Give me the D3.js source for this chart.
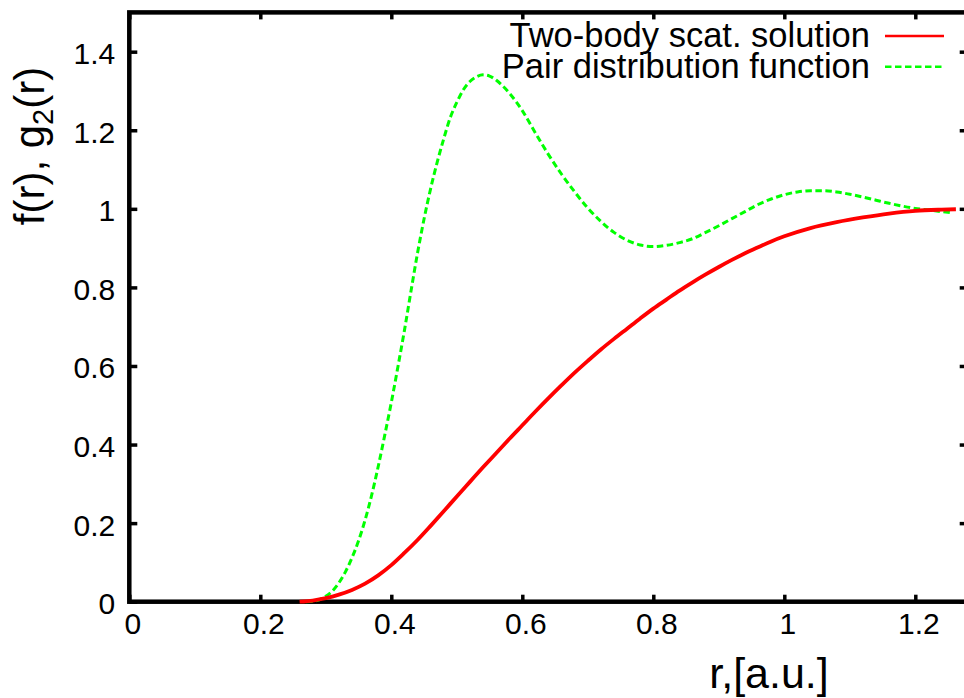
<!DOCTYPE html>
<html>
<head>
<meta charset="utf-8">
<script src="https://cdn.jsdelivr.net/npm/d3@7/dist/d3.min.js"></script>
<style>
  html, body { margin: 0; padding: 0; background: #fff; }
  svg { display: block; }
  text { font-family: "Liberation Sans", Arial, Helvetica, sans-serif; fill: #000; }
</style>
</head>
<body>
<svg id="chart" width="964" height="698"></svg>
<script>
// ---- data ----
const rRed = [0.26,0.28,0.30,0.32,0.34,0.36,0.38,0.40,0.42,0.44,0.46,0.48,0.50,0.52,0.54,0.56,0.58,0.60,0.62,0.64,0.66,0.68,0.70,0.72,0.74,0.76,0.78,0.80,0.82,0.84,0.86,0.88,0.90,0.92,0.94,0.96,0.98,1.00,1.04,1.08,1.12,1.16,1.20,1.24,1.262];
const fRed = [0,0.003,0.009,0.018,0.030,0.046,0.067,0.093,0.124,0.157,0.193,0.230,0.268,0.305,0.342,0.378,0.414,0.449,0.484,0.518,0.551,0.583,0.613,0.642,0.669,0.695,0.721,0.746,0.769,0.792,0.813,0.833,0.852,0.870,0.887,0.902,0.917,0.930,0.951,0.966,0.978,0.988,0.995,0.998,0.999];

const rGreen = [0.27,0.28,0.29,0.30,0.31,0.32,0.33,0.34,0.35,0.36,0.37,0.38,0.39,0.40,0.41,0.42,0.43,0.44,0.45,0.46,0.47,0.48,0.49,0.50,0.51,0.52,0.53,0.54,0.55,0.56,0.57,0.58,0.59,0.60,0.61,0.62,0.63,0.64,0.66,0.68,0.70,0.72,0.74,0.76,0.78,0.80,0.82,0.84,0.86,0.88,0.90,0.92,0.94,0.96,0.98,1.00,1.02,1.04,1.06,1.08,1.10,1.12,1.14,1.16,1.18,1.20,1.22,1.24,1.256];
const gGreen = [0,0.001,0.005,0.014,0.027,0.048,0.076,0.112,0.155,0.208,0.271,0.344,0.424,0.507,0.597,0.690,0.790,0.887,0.974,1.051,1.118,1.178,1.232,1.271,1.303,1.324,1.336,1.341,1.338,1.328,1.313,1.295,1.274,1.250,1.222,1.193,1.165,1.138,1.088,1.043,1.002,0.968,0.940,0.920,0.908,0.904,0.907,0.914,0.924,0.940,0.957,0.975,0.993,1.011,1.025,1.036,1.043,1.046,1.046,1.043,1.037,1.030,1.022,1.014,1.007,1.001,0.997,0.993,0.990];

const xTicks = [0,0.2,0.4,0.6,0.8,1,1.2];
const xTickLabels = ["0","0.2","0.4","0.6","0.8","1","1.2"];
const yTicks = [0,0.2,0.4,0.6,0.8,1,1.2,1.4];
const yTickLabels = ["0","0.2","0.4","0.6","0.8","1","1.2","1.4"];
const seriesNames = ["Two-body scat. solution","Pair distribution function"];

// ---- chart ----
const svg = d3.select("#chart");
const x = d3.scaleLinear().domain([0, 1.28]).range([129.3, 967.7]);
const y = d3.scaleLinear().domain([0, 1.5]).range([601.7, 12.4]);

const axW = 4.5;

// tick marks and labels
const gx = svg.append("g").attr("transform", `translate(0,${y(0)})`)
  .call(d3.axisBottom(x).tickValues(xTicks).tickFormat((d,i)=>xTickLabels[i]).tickSize(-7).tickSizeOuter(0).tickPadding(11));
const gy = svg.append("g").attr("transform", `translate(${x(0)},0)`)
  .call(d3.axisLeft(y).tickValues(yTicks).tickFormat((d,i)=>yTickLabels[i]).tickSize(-8).tickSizeOuter(0).tickPadding(14));
const gt = svg.append("g").attr("transform", `translate(0,${y(1.5)})`)
  .call(d3.axisTop(x).tickValues(xTicks).tickFormat("").tickSize(-7).tickSizeOuter(0));
const gr = svg.append("g").attr("transform", `translate(${x(1.28)},0)`)
  .call(d3.axisRight(y).tickValues(yTicks).tickFormat("").tickSize(-8).tickSizeOuter(0));

[gx, gy, gt, gr].forEach(g => {
  g.select(".domain").remove();
  g.selectAll(".tick line").attr("stroke", "#000").attr("stroke-width", 3.5);
  g.selectAll(".tick text").attr("font-size", 30).attr("font-family", '"Liberation Sans", Arial, sans-serif').attr("fill", "#000");
});
gx.selectAll(".tick text").attr("dx", 3);
gy.selectAll(".tick text").attr("dy", "0.4em");

// frame
svg.append("rect")
  .attr("x", x(0)).attr("y", y(1.5))
  .attr("width", x(1.28) - x(0)).attr("height", y(0) - y(1.5))
  .attr("fill", "none").attr("stroke", "#000").attr("stroke-width", axW);

// lines
const redData = rRed.map((r,i)=>[r, fRed[i]]);
const greenData = rGreen.map((r,i)=>[r, gGreen[i]]);
const line = d3.line().x(d=>x(d[0])).y(d=>y(d[1])).curve(d3.curveMonotoneX);

svg.append("path").datum(greenData).attr("d", line)
  .attr("fill","none").attr("stroke","#00ff00").attr("stroke-width",3)
  .attr("stroke-dasharray","6.5,3.5");
svg.append("path").datum(redData).attr("d", line)
  .attr("fill","none").attr("stroke","#ff0000").attr("stroke-width",3.8);

// legend
const leg = svg.append("g");
const legRows = [{name: seriesNames[0], color:"#ff0000", dash:null, y:36},
                 {name: seriesNames[1], color:"#00ff00", dash:"6.5,3.5", y:66.7}];
legRows.forEach(r => {
  leg.append("text").attr("x", 870).attr("y", r.y + 11).attr("text-anchor","end")
    .attr("font-size", 34.5).text(r.name);
  leg.append("line").attr("x1", 885).attr("x2", 944).attr("y1", r.y).attr("y2", r.y)
    .attr("stroke", r.color).attr("stroke-width", 2.5).attr("stroke-dasharray", r.dash);
});

// axis titles
svg.append("text").attr("x", 769).attr("y", 688).attr("text-anchor","middle")
  .attr("font-size", 43).text("r,[a.u.]");

const yt = svg.append("text").attr("transform","translate(44,146) rotate(-90)")
  .attr("text-anchor","middle").attr("font-size", 42);
yt.append("tspan").text("f(r), g");
yt.append("tspan").attr("font-size", 29).attr("dy", 9).text("2");
yt.append("tspan").attr("dy", -9).text("(r)");
</script>
</body>
</html>
